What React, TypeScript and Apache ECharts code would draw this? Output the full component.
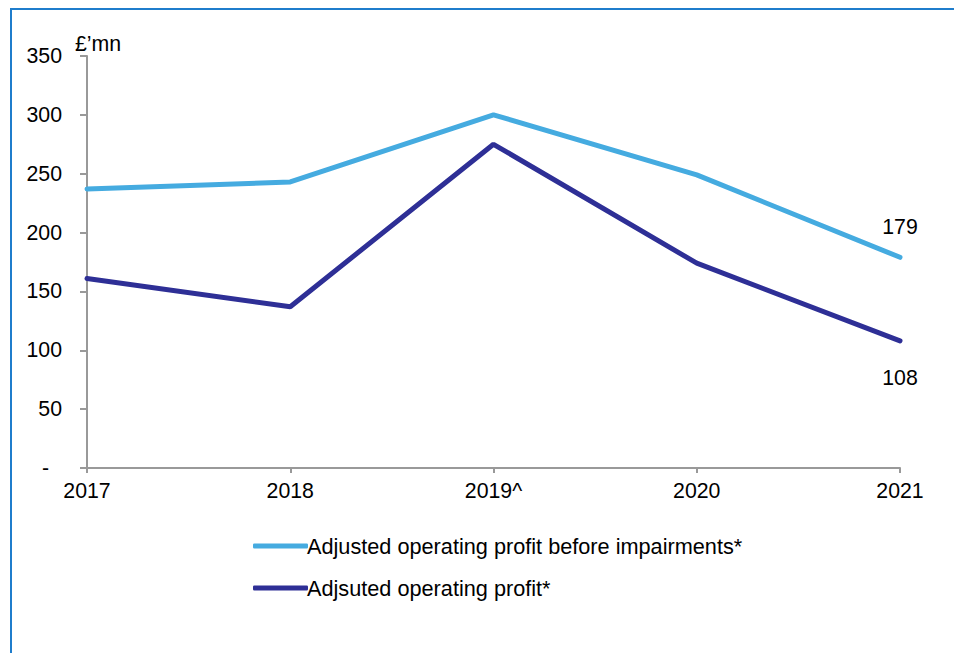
import React, { useEffect, useRef } from "react";
import * as echarts from "echarts";

const years = ["2017", "2018", "2019^", "2020", "2021"];
const beforeImpairments = [237, 243, 300, 249, 179];
const operatingProfit = [161, 137, 275, 174, 108];
const seriesNames = ["Adjusted operating profit before impairments*", "Adjsuted operating profit*"];
const unitLabel = "£’mn";

const FONT = "'Liberation Sans', Arial, sans-serif";
const FS = 21.3;

export default function App() {
  const ref = useRef<HTMLDivElement>(null);
  useEffect(() => {
    if (!ref.current) return;
    const chart = echarts.init(ref.current, null, { renderer: "svg" });
    const lastLabel = (pos: string, dist: number) => ({
      show: true,
      position: pos,
      distance: dist,
      color: "#000",
      fontSize: FS,
      fontFamily: FONT,
      formatter: (p: any) => (p.dataIndex === years.length - 1 ? String(p.value) : ""),
    });
    chart.setOption({
      animation: false,
      backgroundColor: "#fff",
      textStyle: { fontFamily: FONT },
      grid: { left: 87, right: 54, top: 56, bottom: 185, containLabel: false },
      graphic: [
        {
          type: "rect",
          shape: { x: 11, y: 9, width: 960, height: 700 },
          style: { fill: "none", stroke: "#1f7dcc", lineWidth: 2 },
          silent: true,
        },
        {
          type: "text",
          left: 75,
          top: 33,
          style: { text: unitLabel, fontSize: FS, fill: "#000", fontFamily: FONT },
        },
      ],
      legend: {
        orient: "vertical",
        left: 248,
        top: 530,
        itemWidth: 55,
        itemHeight: 5,
        itemGap: 20,
        icon: "roundRect",
        textStyle: { fontSize: FS + 0.4, color: "#000", fontFamily: FONT, padding: [0, 0, 0, -6] },
        data: seriesNames,
      },
      xAxis: {
        type: "category",
        data: years,
        boundaryGap: false,
        axisLine: { lineStyle: { color: "#999", width: 2 } },
        axisTick: { show: true, alignWithLabel: true, length: 5, lineStyle: { color: "#999", width: 2 } },
        axisLabel: { color: "#000", fontSize: FS, margin: 12, fontFamily: FONT },
        splitLine: { show: false },
      },
      yAxis: {
        type: "value",
        min: 0,
        max: 350,
        interval: 50,
        axisLine: { show: true, lineStyle: { color: "#999", width: 2 } },
        axisTick: { show: true, length: 7, lineStyle: { color: "#999", width: 2 } },
        axisLabel: {
          color: "#000",
          fontSize: FS,
          margin: 25,
          fontFamily: FONT,
          formatter: (v: number) => (v === 0 ? "{d|-}" : String(v)),
          rich: { d: { fontSize: FS, color: "#000", padding: [0, 13, 0, 0], fontFamily: FONT } },
        },
        splitLine: { show: false },
      },
      series: [
        {
          name: seriesNames[0],
          type: "line",
          data: beforeImpairments,
          showSymbol: true,
          symbol: "circle",
          symbolSize: 0,
          color: "#45abe0",
          lineStyle: { width: 5, color: "#45abe0", cap: "round" },
          label: lastLabel("top", 20),
        },
        {
          name: seriesNames[1],
          type: "line",
          data: operatingProfit,
          showSymbol: true,
          symbol: "circle",
          symbolSize: 0,
          color: "#2e2f96",
          lineStyle: { width: 5, color: "#2e2f96", cap: "round" },
          label: lastLabel("bottom", 27),
        },
      ],
    });
    return () => chart.dispose();
  }, []);
  return (
    <div
      ref={ref}
      style={{ position: "fixed", left: 0, top: 0, width: 954, height: 653, background: "#fff" }}
    />
  );
}
